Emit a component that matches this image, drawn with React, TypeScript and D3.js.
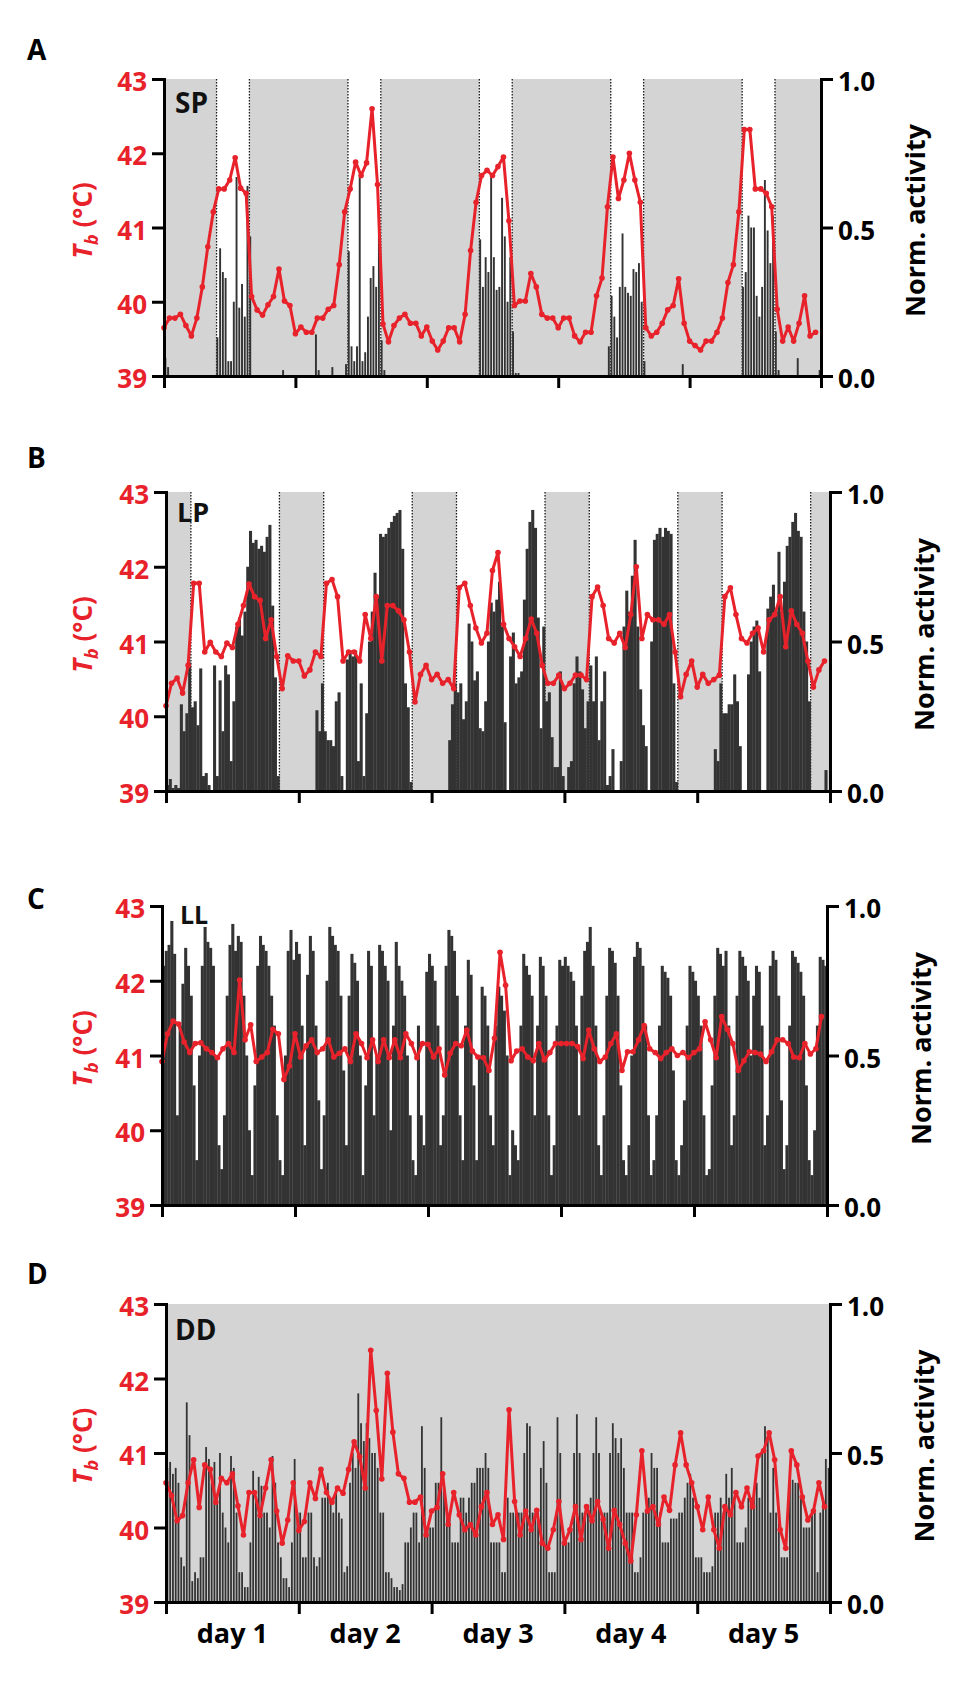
import { useEffect, useRef } from "react";
import * as d3 from "d3";

// body temperature, hourly (°C), 120 h
const tbSP = [
  39.65, 39.78, 39.78, 39.83, 39.68, 39.54, 39.78, 40.2, 40.74, 41.21,
  41.52, 41.52, 41.64, 41.94, 41.53, 41.46, 40.07, 39.89, 39.82, 39.96,
  40.07, 40.44, 40.01, 39.95, 39.57, 39.66, 39.59, 39.59, 39.78, 39.78,
  39.9, 39.95, 40.5, 41.21, 41.52, 41.88, 41.7, 41.87, 42.6, 41.58,
  39.7, 39.46, 39.68, 39.78, 39.83, 39.71, 39.71, 39.54, 39.66, 39.47,
  39.35, 39.47, 39.65, 39.65, 39.46, 39.83, 40.69, 41.34, 41.7, 41.77,
  41.7, 41.82, 41.95, 41.09, 39.95, 40.01, 40.01, 40.38, 40.2, 39.83,
  39.78, 39.78, 39.65, 39.78, 39.78, 39.54, 39.46, 39.59, 39.59, 40.08,
  40.32, 41.28, 41.95, 41.39, 41.64, 42.0, 41.64, 41.34, 39.65, 39.54,
  39.59, 39.71, 39.89, 39.95, 40.31, 39.71, 39.47, 39.41, 39.35, 39.47,
  39.47, 39.59, 39.78, 40.26, 40.5, 41.21, 42.32, 42.32, 41.52, 41.52,
  41.46, 41.28, 39.9, 39.47, 39.66, 39.47, 39.71, 40.08, 39.54, 39.59,
];
const tbLP = [
  40.14, 40.44, 40.51, 40.31, 40.68, 41.78, 41.78, 40.86, 40.99, 40.86,
  40.8, 40.98, 40.92, 41.23, 41.48, 41.77, 41.6, 41.55, 41.04, 41.29,
  40.8, 40.37, 40.81, 40.74, 40.74, 40.54, 40.62, 40.86, 40.8, 41.78,
  41.83, 41.6, 40.74, 40.86, 40.86, 40.74, 41.36, 41.04, 41.6, 40.74,
  41.48, 41.48, 41.41, 41.29, 40.86, 40.19, 40.56, 40.68, 40.49, 40.56,
  40.44, 40.49, 40.37, 41.72, 41.78, 41.48, 41.18, 40.98, 41.11, 41.95,
  42.19, 41.23, 41.04, 40.93, 40.8, 41.04, 41.3, 41.11, 40.68, 40.44,
  40.44, 40.55, 40.37, 40.44, 40.55, 40.55, 40.49, 41.6, 41.73, 41.48,
  41.04, 40.98, 41.11, 40.92, 41.36, 42.0, 41.04, 41.36, 41.29, 41.29,
  41.23, 41.36, 40.86, 40.26, 40.56, 40.74, 40.39, 40.56, 40.44, 40.49,
  40.55, 41.6, 41.72, 41.36, 41.04, 40.98, 41.11, 41.18, 40.86, 41.29,
  41.36, 41.6, 40.93, 41.41, 41.23, 41.11, 40.74, 40.39, 40.62, 40.74,
];
const tbLL = [
  40.92, 41.29, 41.46, 41.42, 41.18, 41.04, 41.16, 41.17, 41.09, 41.04,
  40.97, 41.09, 41.16, 41.04, 42.01, 41.21, 41.41, 40.92, 40.98, 41.04,
  41.35, 41.29, 40.68, 40.86, 41.29, 40.98, 41.13, 41.21, 41.04, 41.09,
  41.21, 40.98, 41.03, 41.09, 40.92, 41.29, 41.16, 40.97, 41.21, 40.92,
  41.21, 40.97, 41.21, 40.97, 41.29, 41.16, 40.97, 41.16, 41.15, 40.98,
  41.09, 40.74, 41.03, 41.16, 41.13, 41.34, 41.06, 40.98, 40.97, 40.8,
  41.23, 42.38, 41.94, 40.93, 41.06, 41.09, 40.98, 40.93, 41.16, 40.94,
  41.04, 41.16, 41.16, 41.16, 41.16, 41.12, 40.96, 41.34, 41.09, 40.92,
  40.98, 41.16, 41.29, 40.8, 41.05, 41.05, 41.21, 41.4, 41.09, 41.04,
  40.96, 41.04, 41.09, 41.0, 41.04, 40.97, 41.04, 41.09, 41.45, 41.21,
  40.97, 41.52, 41.35, 41.16, 40.8, 40.93, 41.05, 41.04, 41.02, 40.92,
  41.05, 41.21, 41.21, 41.16, 40.98, 40.97, 41.16, 41.02, 41.09, 41.52,
];
const tbDD = [
  40.6, 40.43, 40.09, 40.16, 40.6, 40.91, 40.27, 40.84, 40.78, 40.34,
  40.66, 40.6, 40.72, 40.29, 39.9, 40.47, 40.47, 40.16, 40.53, 40.91,
  40.22, 39.79, 40.1, 40.6, 39.96, 40.08, 40.6, 40.39, 40.78, 40.47,
  40.34, 40.53, 40.46, 40.78, 41.15, 40.95, 40.53, 42.38, 41.57, 40.65,
  42.07, 41.28, 40.72, 40.66, 40.34, 40.34, 40.41, 39.9, 40.22, 40.27,
  40.72, 40.04, 40.47, 40.17, 39.97, 40.04, 39.9, 40.28, 40.47, 40.04,
  40.17, 39.84, 41.58, 40.35, 39.9, 40.22, 39.97, 40.23, 39.79, 39.72,
  39.97, 40.35, 39.79, 39.97, 40.28, 39.84, 40.28, 40.09, 40.35, 40.11,
  39.72, 40.23, 40.04, 39.79, 39.55, 40.17, 41.03, 40.22, 40.28, 40.04,
  40.41, 40.23, 40.84, 41.27, 40.84, 40.6, 40.28, 39.97, 40.41, 39.97,
  39.72, 40.28, 40.17, 40.47, 40.28, 40.53, 40.28, 40.96, 41.03, 41.27,
  40.91, 39.97, 39.72, 41.03, 40.84, 40.41, 40.1, 40.22, 40.6, 40.28,
];

// normalized activity, 30-min bins (48 per day, 240 in all)
const actSP = [
  // day 1
  0.06, 0.03, 0, 0, 0, 0, 0, 0, 0, 0, 0, 0, 0, 0, 0, 0, 0, 0, 0, 0.13, 0.43, 0.35, 0.33, 0.05,
  0.05, 0.25, 0.67, 0.23, 0.31, 0.2, 0.64, 0.47, 0, 0, 0, 0, 0, 0, 0, 0, 0, 0, 0, 0.02, 0, 0, 0, 0,
  // day 2
  0, 0, 0, 0, 0, 0, 0, 0.14, 0.02, 0, 0, 0, 0, 0.03, 0, 0, 0, 0, 0.04, 0.42, 0.1, 0.05, 0.1, 0.67,
  0.05, 0.08, 0.2, 0.33, 0.37, 0.3, 0.55, 0.12, 0.02, 0, 0, 0, 0, 0, 0, 0, 0, 0, 0, 0, 0, 0, 0, 0,
  // day 3
  0, 0, 0, 0, 0, 0, 0, 0, 0, 0, 0, 0, 0, 0, 0, 0, 0, 0, 0, 0.46, 0.3, 0.4, 0.35, 0.68,
  0.4, 0.29, 0.3, 0.6, 0.47, 0.25, 0.4, 0.15, 0.01, 0.01, 0, 0, 0, 0, 0, 0, 0, 0, 0, 0, 0, 0, 0, 0,
  // day 4
  0, 0, 0, 0, 0, 0, 0, 0, 0, 0, 0, 0, 0, 0, 0, 0, 0, 0, 0.1, 0.27, 0.2, 0.13, 0.3, 0.48,
  0.3, 0.28, 0.27, 0.36, 0.35, 0.38, 0.25, 0.05, 0, 0, 0, 0, 0, 0, 0, 0, 0, 0, 0, 0, 0, 0.04, 0, 0,
  // day 5
  0, 0, 0, 0, 0, 0, 0, 0, 0, 0, 0, 0, 0, 0, 0, 0, 0, 0, 0, 0.3, 0.35, 0.54, 0.5, 0.5,
  0.27, 0.2, 0.3, 0.66, 0.49, 0.38, 0.54, 0.15, 0.02, 0, 0, 0, 0, 0, 0, 0.06, 0, 0, 0, 0, 0, 0, 0, 0.02,
];
const actLP = [
  // day 1
  0.02, 0.04, 0.01, 0.02, 0.01, 0.29, 0.2, 0.26, 0.43, 0.28, 0.3, 0.22, 0.41, 0.05, 0.06, 0.02, 0, 0.42, 0.05, 0.37, 0.2, 0.42, 0.39, 0.1,
  0.3, 0.55, 0.58, 0.52, 0.6, 0.75, 0.87, 0.83, 0.84, 0.81, 0.82, 0.8, 0.85, 0.89, 0.62, 0.38, 0.05, 0, 0, 0, 0, 0, 0, 0,
  // day 2
  0, 0, 0, 0, 0, 0, 0.27, 0.2, 0.36, 0.2, 0.17, 0.17, 0.15, 0.3, 0.33, 0.05, 0, 0.44, 0.47, 0.45, 0.47, 0.1, 0.36, 0.05,
  0.26, 0.5, 0.6, 0.73, 0.65, 0.86, 0.85, 0.86, 0.88, 0.9, 0.92, 0.93, 0.94, 0.81, 0.36, 0.28, 0.03, 0, 0, 0, 0, 0, 0, 0,
  // day 3
  0, 0, 0, 0, 0, 0, 0.17, 0.29, 0.36, 0.33, 0.36, 0.24, 0.3, 0.56, 0.5, 0.37, 0.4, 0.21, 0.2, 0.3, 0.5, 0.63, 0.6, 0.64,
  0.7, 0.55, 0.23, 0, 0.45, 0.53, 0.36, 0.38, 0.4, 0.64, 0.81, 0.9, 0.94, 0.88, 0.58, 0.21, 0.55, 0.3, 0.33, 0.18, 0.08, 0.08, 0.4, 0.05,
  // day 4
  0, 0.08, 0.1, 0.36, 0.45, 0.4, 0.34, 0.21, 0.3, 0.42, 0.3, 0.45, 0.17, 0.3, 0.4, 0.02, 0.05, 0.14, 0, 0, 0.1, 0.55, 0.67, 0.6,
  0.72, 0.84, 0.55, 0.34, 0.22, 0.15, 0, 0.5, 0.84, 0.86, 0.88, 0.85, 0.88, 0.87, 0.86, 0.36, 0.03, 0, 0, 0, 0, 0, 0, 0,
  // day 5
  0, 0, 0, 0, 0, 0, 0.14, 0.1, 0.36, 0.26, 0.26, 0.29, 0.29, 0.39, 0.3, 0.15, 0, 0, 0.39, 0.5, 0.55, 0.57, 0.4, 0,
  0, 0.61, 0.65, 0.69, 0.6, 0.8, 0.6, 0.7, 0.82, 0.85, 0.9, 0.93, 0.87, 0.85, 0.6, 0.5, 0.3, 0, 0, 0, 0, 0, 0.07, 0,
];
const actLL = [
  // day 1
  0.8, 0.85, 0.87, 0.95, 0.84, 0.3, 0.6, 0.74, 0.86, 0.8, 0.7, 0.4, 0.15, 0.5, 0.8, 0.93, 0.88, 0.86, 0.8, 0.5, 0.2, 0.12, 0.3, 0.7,
  0.87, 0.94, 0.85, 0.9, 0.88, 0.7, 0.5, 0.25, 0.1, 0.4, 0.8, 0.9, 0.87, 0.85, 0.8, 0.7, 0.6, 0.3, 0.15, 0.1, 0.5, 0.85, 0.92, 0.82,
  // day 2
  0.88, 0.84, 0.6, 0.2, 0.77, 0.9, 0.85, 0.6, 0.35, 0.12, 0.3, 0.75, 0.93, 0.9, 0.87, 0.85, 0.7, 0.45, 0.2, 0.7, 0.84, 0.81, 0.75, 0.5,
  0.1, 0.4, 0.85, 0.8, 0.3, 0.5, 0.87, 0.85, 0.8, 0.75, 0.25, 0.6, 0.88, 0.8, 0.75, 0.7, 0.5, 0.3, 0.15, 0.1, 0.6, 0.3, 0.2, 0.78,
  // day 3
  0.84, 0.8, 0.75, 0.6, 0.2, 0.3, 0.8, 0.92, 0.9, 0.85, 0.7, 0.3, 0.15, 0.6, 0.82, 0.77, 0.4, 0.15, 0.5, 0.73, 0.7, 0.6, 0.3, 0.2,
  0.6, 0.73, 0.7, 0.65, 0.5, 0.1, 0.25, 0.2, 0.15, 0.6, 0.84, 0.8, 0.77, 0.7, 0.3, 0.6, 0.83, 0.8, 0.7, 0.3, 0.1, 0.2, 0.6, 0.82,
  // day 4
  0.8, 0.83, 0.8, 0.78, 0.75, 0.6, 0.3, 0.7, 0.85, 0.88, 0.93, 0.8, 0.6, 0.2, 0.1, 0.3, 0.7, 0.86, 0.85, 0.81, 0.7, 0.4, 0.15, 0.1,
  0.2, 0.5, 0.83, 0.88, 0.86, 0.8, 0.6, 0.3, 0.1, 0.15, 0.3, 0.6, 0.8, 0.78, 0.76, 0.7, 0.45, 0.15, 0.1, 0.2, 0.35, 0.6, 0.8, 0.78,
  // day 5
  0.75, 0.7, 0.6, 0.3, 0.1, 0.12, 0.4, 0.7, 0.86, 0.84, 0.8, 0.85, 0.6, 0.2, 0.3, 0.7, 0.85, 0.83, 0.8, 0.75, 0.5, 0.7, 0.8, 0.78,
  0.6, 0.2, 0.3, 0.8, 0.85, 0.82, 0.7, 0.35, 0.12, 0.2, 0.6, 0.85, 0.83, 0.81, 0.78, 0.7, 0.4, 0.15, 0.1, 0.25, 0.6, 0.83, 0.82, 0.8,
];
const actDD = [
  // day 1
  0.45, 0.47, 0.43, 0.45, 0.4, 0.15, 0.12, 0.67, 0.56, 0.07, 0.1, 0.08, 0.15, 0.15, 0.52, 0.48, 0.4, 0.47, 0.35, 0.5, 0.3, 0.25, 0.2, 0.49,
  0.45, 0.3, 0.1, 0.1, 0.05, 0.05, 0.2, 0.44, 0.35, 0.42, 0.39, 0.3, 0.3, 0.25, 0.49, 0.4, 0.2, 0.15, 0.08, 0.08, 0.05, 0.2, 0.48, 0.3,
  // day 2
  0.3, 0.15, 0.15, 0.3, 0.3, 0.15, 0.12, 0.15, 0.35, 0.35, 0.4, 0.35, 0.3, 0.38, 0.3, 0.28, 0.1, 0.12, 0.4, 0.5, 0.45, 0.7, 0.6, 0.54,
  0.6, 0.55, 0.5, 0.5, 0.45, 0.3, 0.3, 0.1, 0.1, 0.08, 0.05, 0.05, 0.04, 0.06, 0.2, 0.2, 0.25, 0.3, 0.3, 0.2, 0.59, 0.45, 0.25, 0.25,
  // day 3
  0.25, 0.4, 0.4, 0.62, 0.4, 0.3, 0.3, 0.2, 0.2, 0.2, 0.35, 0.35, 0.3, 0.35, 0.4, 0.4, 0.45, 0.45, 0.45, 0.5, 0.45, 0.2, 0.2, 0.2,
  0.2, 0.1, 0.1, 0.35, 0.3, 0.3, 0.3, 0.3, 0.3, 0.5, 0.6, 0.59, 0.3, 0.3, 0.3, 0.45, 0.54, 0.4, 0.1, 0.1, 0.1, 0.62, 0.5, 0.2,
  // day 4
  0.2, 0.2, 0.25, 0.5, 0.63, 0.5, 0.3, 0.3, 0.3, 0.35, 0.5, 0.62, 0.5, 0.3, 0.3, 0.3, 0.5, 0.6, 0.55, 0.5, 0.55, 0.45, 0.3, 0.3,
  0.3, 0.1, 0.1, 0.15, 0.3, 0.3, 0.35, 0.5, 0.45, 0.45, 0.3, 0.2, 0.2, 0.2, 0.28, 0.28, 0.28, 0.3, 0.3, 0.35, 0.4, 0.43, 0.35, 0.15,
  // day 5
  0.15, 0.15, 0.1, 0.1, 0.1, 0.12, 0.3, 0.3, 0.35, 0.3, 0.43, 0.35, 0.45, 0.35, 0.2, 0.2, 0.2, 0.25, 0.35, 0.35, 0.35, 0.4, 0.35, 0.5,
  0.59, 0.55, 0.3, 0.45, 0.3, 0.3, 0.15, 0.15, 0.15, 0.4, 0.41, 0.4, 0.4, 0.35, 0.25, 0.25, 0.25, 0.3, 0.3, 0.1, 0.3, 0.35, 0.48, 0.45,
];

// dark phases, hours from start
const darkSP: [number, number][] = [[0, 9.6], [15.6, 33.6], [39.6, 57.6], [63.6, 81.6], [87.6, 105.6], [111.6, 120]];
const darkLP: [number, number][] = [[0, 4.5], [20.5, 28.5], [44.5, 52.5], [68.5, 76.5], [92.5, 100.5], [116.5, 120]];
const darkLL: [number, number][] = [];
const darkDD: [number, number][] = [[0, 120]];

const tbTicks = [39, 40, 41, 42, 43];
const actTicks = [0, 0.5, 1];
const dayTicks = [0, 24, 48, 72, 96, 120];
const dayLabels = ["day 1", "day 2", "day 3", "day 4", "day 5"];

const RED = "#e8222b";
const BAR = "#333333";
const SHADE = "#d4d4d4";
const FONT = "'Open Sans', 'DejaVu Sans', sans-serif";

// barFrac: share of each 30-min slot the bar fills (sparser look in A and D)
const panels = [
  { letter: "A", letterY: 60, tag: "SP", tagX: 175, tagY: 113, tagSize: 28, barFrac: 0.7, tb: tbSP, act: actSP, dark: darkSP, x0: 164, x1: 821, y0: 79, y1: 376 },
  { letter: "B", letterY: 468, tag: "LP", tagX: 177, tagY: 522, tagSize: 27, barFrac: 1, tb: tbLP, act: actLP, dark: darkLP, x0: 166, x1: 830, y0: 492, y1: 791 },
  { letter: "C", letterY: 909, tag: "LL", tagX: 180, tagY: 924, tagSize: 25, barFrac: 1, tb: tbLL, act: actLL, dark: darkLL, x0: 162, x1: 827, y0: 906, y1: 1205 },
  { letter: "D", letterY: 1284, tag: "DD", tagX: 175, tagY: 1340, tagSize: 28, barFrac: 0.65, tb: tbDD, act: actDD, dark: darkDD, x0: 166, x1: 830, y0: 1304, y1: 1602 },
];

type Panel = (typeof panels)[number];

function drawPanel(svg: d3.Selection<SVGSVGElement, unknown, null, undefined>, p: Panel, last: boolean) {
  const x = d3.scaleLinear().domain([0, 120]).range([p.x0, p.x1]);
  const yT = d3.scaleLinear().domain([39, 43]).range([p.y1, p.y0]);
  const yA = d3.scaleLinear().domain([0, 1]).range([p.y1, p.y0]);
  const g = svg.append("g");

  // dark phases
  g.selectAll("rect.dark")
    .data(p.dark)
    .join("rect")
    .attr("x", (d) => x(d[0]))
    .attr("width", (d) => x(d[1]) - x(d[0]))
    .attr("y", p.y0)
    .attr("height", p.y1 - p.y0)
    .attr("fill", SHADE);

  // lights on / off
  const edges = p.dark.flat().filter((h) => h > 0 && h < 120);
  g.selectAll("line.edge")
    .data(edges)
    .join("line")
    .attr("x1", (d) => x(d))
    .attr("x2", (d) => x(d))
    .attr("y1", p.y0)
    .attr("y2", p.y1)
    .attr("stroke", "#1a1a1a")
    .attr("stroke-width", 1.3)
    .attr("stroke-dasharray", "1.4,1.6");

  // activity bars
  const slot = x(0.5) - x(0);
  const bw = p.barFrac >= 1 ? slot + 0.3 : slot * p.barFrac;
  g.selectAll("rect.act")
    .data(p.act)
    .join("rect")
    .attr("x", (_d, i) => x(i * 0.5) + (p.barFrac >= 1 ? 0 : (slot - bw) / 2))
    .attr("width", bw)
    .attr("y", (d) => yA(d))
    .attr("height", (d) => yA(0) - yA(d))
    .attr("fill", BAR);

  // condition tag
  g.append("text")
    .attr("x", p.tagX)
    .attr("y", p.tagY)
    .attr("font-family", FONT)
    .attr("font-weight", 700)
    .attr("font-size", p.tagSize)
    .attr("fill", "#111")
    .text(p.tag);

  // Tb line
  const line = d3
    .line<number>()
    .x((_d, i) => x(i))
    .y((d) => yT(d));
  g.append("path")
    .attr("d", line(p.tb) as string)
    .attr("fill", "none")
    .attr("stroke", RED)
    .attr("stroke-width", 3)
    .attr("stroke-linejoin", "round");
  g.selectAll("circle.tb")
    .data(p.tb)
    .join("circle")
    .attr("cx", (_d, i) => x(i))
    .attr("cy", (d) => yT(d))
    .attr("r", 2.8)
    .attr("fill", RED);

  // axes
  const styleAxis = (ax: d3.Selection<SVGGElement, unknown, null, undefined>, color: string) => {
    ax.attr("font-family", FONT).attr("font-size", 26).attr("font-weight", 700);
    ax.select(".domain").attr("stroke", "#000").attr("stroke-width", 3).attr("stroke-linecap", "square");
    ax.selectAll(".tick line").attr("stroke", "#000").attr("stroke-width", 3);
    ax.selectAll(".tick text").attr("fill", color).attr("dy", "0.45em");
  };

  const left = g
    .append("g")
    .attr("transform", `translate(${p.x0},0)`)
    .call(d3.axisLeft(yT).tickValues(tbTicks).tickSize(12).tickSizeOuter(0).tickPadding(5).tickFormat(d3.format("d")));
  styleAxis(left, RED);

  const right = g
    .append("g")
    .attr("transform", `translate(${p.x1},0)`)
    .call(d3.axisRight(yA).tickValues(actTicks).tickSize(12).tickSizeOuter(0).tickPadding(5).tickFormat(d3.format(".1f")));
  styleAxis(right, "#000");

  const bottom = g
    .append("g")
    .attr("transform", `translate(0,${p.y1})`)
    .call(d3.axisBottom(x).tickValues(dayTicks).tickSize(12).tickSizeOuter(0).tickFormat(() => ""));
  styleAxis(bottom, "#000");

  const cy = (p.y0 + p.y1) / 2 - 7;

  // Tb axis title
  const tl = g
    .append("text")
    .attr("transform", `translate(92,${cy}) rotate(-90)`)
    .attr("text-anchor", "middle")
    .attr("font-family", FONT)
    .attr("font-weight", 700)
    .attr("font-size", 26)
    .attr("fill", RED);
  tl.append("tspan").attr("font-style", "italic").text("T");
  tl.append("tspan").attr("font-style", "italic").attr("font-size", 18).attr("dy", 6).text("b");
  tl.append("tspan").attr("dy", -6).text(" (°C)");

  // activity axis title
  g.append("text")
    .attr("transform", `translate(${p.x1 + 104},${cy}) rotate(-90)`)
    .attr("text-anchor", "middle")
    .attr("font-family", FONT)
    .attr("font-weight", 700)
    .attr("font-size", 27)
    .attr("fill", "#000")
    .text("Norm. activity");

  // panel letter
  g.append("text")
    .attr("x", 27)
    .attr("y", p.letterY)
    .attr("font-family", FONT)
    .attr("font-weight", 700)
    .attr("font-size", 28)
    .attr("fill", "#000")
    .text(p.letter);

  if (last) {
    g.selectAll("text.day")
      .data(dayLabels)
      .join("text")
      .attr("x", (_d, i) => x(i * 24 + 12))
      .attr("y", p.y1 + 41)
      .attr("text-anchor", "middle")
      .attr("font-family", FONT)
      .attr("font-weight", 700)
      .attr("font-size", 27)
      .attr("fill", "#000")
      .text((d) => d);
  }
}

export default function App() {
  const ref = useRef<SVGSVGElement | null>(null);

  useEffect(() => {
    const svg = d3.select(ref.current as SVGSVGElement);
    svg.selectAll("*").remove();
    panels.forEach((p, i) => drawPanel(svg, p, i === panels.length - 1));
  }, []);

  return (
    <svg
      ref={ref}
      width={975}
      height={1683}
      style={{ position: "absolute", left: 0, top: 0, background: "#fff" }}
    />
  );
}
